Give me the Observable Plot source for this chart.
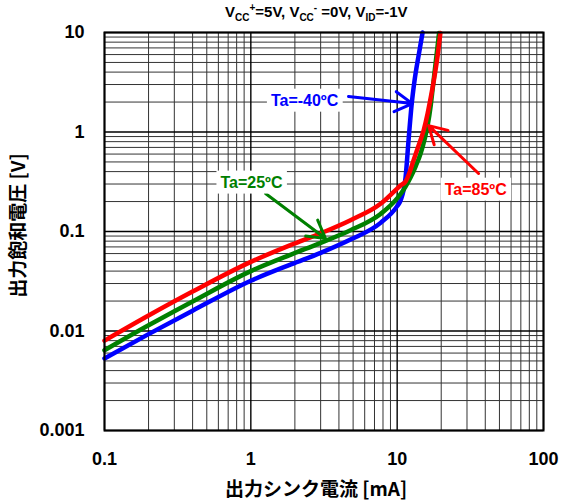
<!DOCTYPE html>
<html><head><meta charset="utf-8">
<script src="https://cdn.jsdelivr.net/npm/d3@7"></script>
<script src="https://cdn.jsdelivr.net/npm/@observablehq/plot@0.6"></script>
<style>
body{margin:0;background:#fff;}
#wrap{position:relative;width:563px;height:504px;}
#title{position:absolute;top:2px;left:225px;font:bold 15px Arial,"Liberation Sans",sans-serif;white-space:nowrap;color:#000;}
#title sub,#title sup{font-size:10px;}
</style></head><body>
<div id="wrap"><div id="chart"></div><div id="title">V<sub>CC</sub><sup>+</sup>=5V, V<sub>CC</sub><sup>-</sup> =0V, V<sub>ID</sub>=-1V</div></div>
<script>
// Tick values
const xTicks = [0.1, 1, 10, 100];
const yTicks = [0.001, 0.01, 0.1, 1, 10];
const xLabel = "出力シンク電流 [mA]";
const yLabel = "出力飽和電圧 [V]";

// Ta = -40ºC
const m40Current = [0.1,0.2,0.4,1,1.9,3,4.8,7.7,10,10.55,11.41,11.96,12.54,13.15,14.01,14.92];
const m40Voltage = [0.0053,0.0093,0.016,0.032,0.047,0.061,0.083,0.122,0.18,0.205,0.349,0.822,1.85,3.3,5.87,10];
// Ta = 25ºC
const t25Current = [0.1,0.2,0.4,1,1.9,3,4.8,7.7,10,10.55,11.41,12.34,13.36,14.46,15.45,16.15,16.96,17.52,18.4,19.34];
const t25Voltage = [0.0064,0.0114,0.0198,0.04,0.059,0.077,0.103,0.15,0.215,0.238,0.283,0.349,0.45,0.608,0.861,1.16,1.85,2.8,5.23,9.9];
// Ta = 85ºC
const t85Current = [0.1,0.2,0.4,1,1.9,3,4.8,7.7,10,10.55,11.41,12.15,12.93,14.01,15.16,16.15,16.96,17.81,18.71,19.74];
const t85Voltage = [0.008,0.0143,0.0249,0.0495,0.0737,0.096,0.13,0.19,0.27,0.29,0.318,0.392,0.518,0.732,1.035,1.535,2.22,3.3,5.23,9.9];

const seriesNames = ["Ta=-40ºC", "Ta=25ºC", "Ta=85ºC"];
const seriesColors = ["#0000ff", "#008000", "#ff0000"];

// annotation labels and arrows
const labelI = [2.33, 1.01, 34.4];
const labelV = [2.07, 0.311, 0.264];
const arrowFromI = [4.65, 1.26, 36.0];
const arrowFromV = [2.28, 0.241, 0.383];
const arrowToI = [12.7, 3.24, 16.4];
const arrowToV = [1.93, 0.0851, 1.16];

const mk = (I, V, name) => I.map((d, i) => ({I: d, V: V[i], name}));
const curves = [
  mk(m40Current, m40Voltage, seriesNames[0]),
  mk(t25Current, t25Voltage, seriesNames[1]),
  mk(t85Current, t85Voltage, seriesNames[2])
];
const minorX = [0.1, 1, 10].flatMap(d => d3.range(2, 10).map(k => d * k));
const minorY = [0.001, 0.01, 0.1, 1].flatMap(d => d3.range(2, 10).map(k => d * k));
const labels = seriesNames.map((t, i) => ({t, I: labelI[i], V: labelV[i], c: seriesColors[i]}));
const arrows = seriesNames.map((t, i) => ({x1: arrowFromI[i], y1: arrowFromV[i], x2: arrowToI[i], y2: arrowToV[i], c: seriesColors[i]}));
const fmt = d => String(d);
const font = "Arial, 'Liberation Sans', sans-serif";
const jp = "'Noto Sans CJK JP', sans-serif";

const chart = Plot.plot({
  width: 563, height: 504,
  marginLeft: 104, marginRight: 20, marginTop: 32, marginBottom: 74,
  style: {fontFamily: font, fontSize: "18px", fontWeight: "bold", background: "white", color: "black", overflow: "visible"},
  x: {type: "log", domain: [0.1, 100], ticks: xTicks, tickFormat: fmt, tickSize: 0, tickPadding: 22, label: null},
  y: {type: "log", domain: [0.001, 10], ticks: yTicks, tickFormat: fmt, tickSize: 0, tickPadding: 20, label: null},
  marks: [
    Plot.ruleX(minorX, {stroke: "#333", strokeWidth: 1}),
    Plot.ruleY(minorY, {stroke: "#333", strokeWidth: 1}),
    Plot.ruleX(xTicks, {stroke: "#000", strokeWidth: 1.4}),
    Plot.ruleY(yTicks, {stroke: "#000", strokeWidth: 1.4}),
    ...curves.map((c, i) => Plot.line(c, {x: "I", y: "V", stroke: seriesColors[i], strokeWidth: 4.5, curve: "monotone-x"})),
    Plot.arrow(arrows, {x1: "x1", y1: "y1", x2: "x2", y2: "y2", stroke: "c", strokeWidth: 3, headLength: 10, bend: 0}),
    Plot.text(labels, {x: "I", y: "V", text: "t", fill: "c", fontSize: 16, fontWeight: "bold", fontFamily: font}),
    Plot.text([xLabel], {frameAnchor: "bottom", lineAnchor: "middle", textAnchor: "middle", dy: 59, dx: -8, text: d => d, fontFamily: jp, fontSize: 19, fontWeight: "bold", fill: "black"}),
    Plot.text([yLabel], {frameAnchor: "left", lineAnchor: "middle", textAnchor: "middle", dx: -86, dy: -6, rotate: -90, text: d => d, fontFamily: jp, fontSize: 19, fontWeight: "bold", fill: "black"}),
    Plot.frame({stroke: "black", strokeWidth: 2})
  ]
});
document.getElementById("chart").appendChild(chart);

// white boxes behind annotation labels
chart.querySelectorAll("text").forEach(t => {
  if (!seriesNames.includes(t.textContent)) return;
  const b = t.getBBox();
  const r = document.createElementNS("http://www.w3.org/2000/svg", "rect");
  r.setAttribute("x", b.x - 4); r.setAttribute("y", b.y - 3);
  r.setAttribute("width", b.width + 8); r.setAttribute("height", b.height + 6);
  r.setAttribute("fill", "white");
  const tr = t.getAttribute("transform"); if (tr) r.setAttribute("transform", tr);
  t.parentNode.insertBefore(r, t);
});
</script>
</body></html>
